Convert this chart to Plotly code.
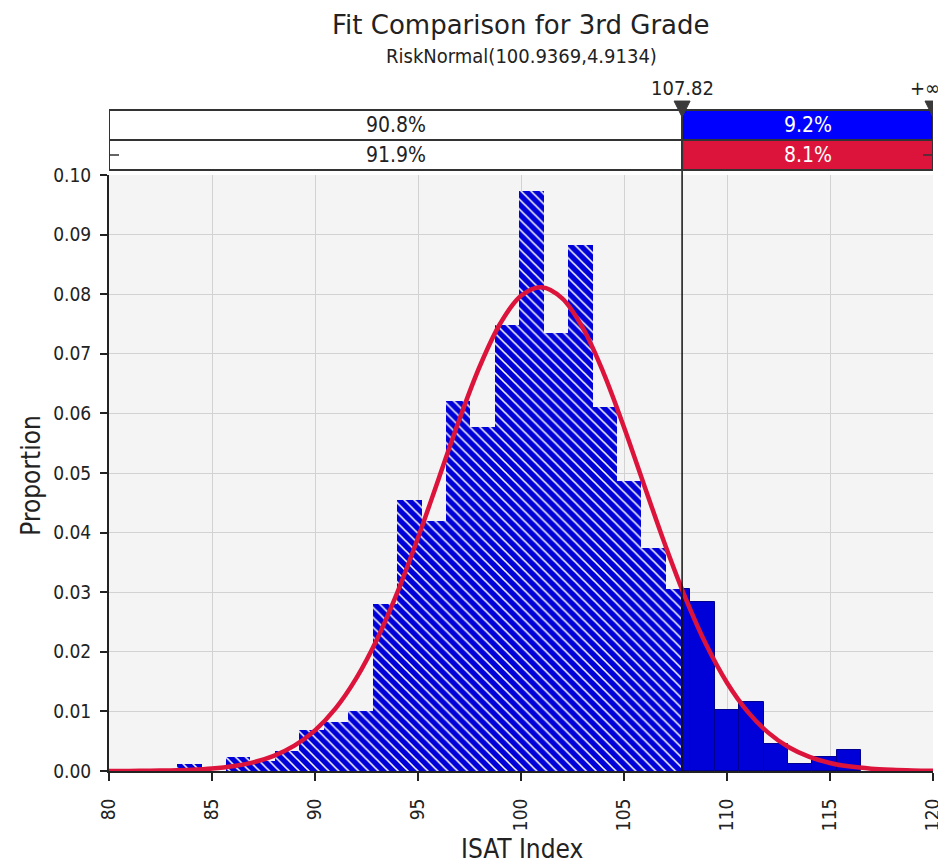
import plotly.graph_objects as go

# ---------------- data ----------------
title_text = "Fit Comparison for 3rd Grade"
subtitle_text = "RiskNormal(100.9369,4.9134)"
x_title = "ISAT Index"
y_title = "Proportion"

# histogram (proportion per bin), bins of equal width starting at bin_lo
bin_lo = 83.31
bin_w = 1.186
proportions = [0.0012, 0.0000, 0.0024, 0.0017, 0.0033, 0.0068, 0.0082, 0.0100,
               0.0280, 0.0454, 0.0420, 0.0621, 0.0578, 0.0748, 0.0974, 0.0735,
               0.0883, 0.0611, 0.0487, 0.0374, 0.0306, 0.0283, 0.0102, 0.0115,
               0.0045, 0.0011, 0.0024, 0.0035]

# fitted curve
curve_x = list(range(80, 121))
curve_y = [0.00001, 0.00002, 0.00005, 0.00010, 0.00021, 0.00042, 0.00080, 0.00145,
           0.00254, 0.00425, 0.00682, 0.01050, 0.01553, 0.02202, 0.02997, 0.03913,
           0.04901, 0.05890, 0.06791, 0.07512, 0.07973, 0.08118, 0.07931, 0.07434,
           0.06685, 0.05768, 0.04774, 0.03792, 0.02889, 0.02112, 0.01481, 0.00997,
           0.00644, 0.00399, 0.00237, 0.00135, 0.00074, 0.00039, 0.00020, 0.00009,
           0.00004]

split_value = 107.82
split_label = "107.82"
right_label = "+\u221e"
band_left_pct = [90.8, 91.9]   # input, fit
band_right_pct = [9.2, 8.1]

x_range = [80, 120]
y_range = [0, 0.10]
x_ticks = [80, 85, 90, 95, 100, 105, 110, 115, 120]
y_ticks = [0.00, 0.01, 0.02, 0.03, 0.04, 0.05, 0.06, 0.07, 0.08, 0.09, 0.10]

# ---------------- style ----------------
FONT = "DejaVu Sans Condensed, DejaVu Sans, sans-serif"
TITLE_FONT = "DejaVu Sans, sans-serif"
TXT = "#222222"
BLUE = "#0000D8"
BAND_BLUE = "#0000FF"
RED = "#DC143C"
OFF = 8                      # page body margin
W, H = 946 - OFF, 865 - OFF
PL, PR, PT, PB = 109, 933, 175, 771.5   # plot area in screen pixels
L, R, T, B = PL - OFF, W - (PR - OFF), PT - OFF, H - (PB - OFF)
PH = PB - PT
PW = PR - PL


def py(px):
    """screen pixel row -> paper y"""
    return (PB - px) / PH


def px_(sx):
    """screen pixel column -> paper x"""
    return (sx - PL) / PW


# split bins into hatched (left of split) and solid (right of split) parts
hx, hw, hy, sx, sw, sy = [], [], [], [], [], []
for i, p in enumerate(proportions):
    a = bin_lo + i * bin_w
    b = a + bin_w
    if a < split_value:
        e = min(b, split_value)
        hx.append((a + e) / 2); hw.append(e - a); hy.append(p)
    if b > split_value:
        s = max(a, split_value)
        sx.append((s + b) / 2); sw.append(b - s); sy.append(p)

fig = go.Figure()
fig.add_trace(go.Bar(
    x=hx, y=hy, width=hw,
    marker=dict(color=BLUE, line=dict(width=0),
                pattern=dict(shape="\\", fgcolor="white", bgcolor=BLUE,
                             fillmode="replace", size=7, solidity=0.22)),
    showlegend=False, hoverinfo="skip"))
fig.add_trace(go.Bar(
    x=sx, y=sy, width=sw,
    marker=dict(color=BLUE, line=dict(width=1, color="#000090")),
    showlegend=False, hoverinfo="skip"))
fig.add_trace(go.Scatter(
    x=curve_x, y=curve_y, mode="lines",
    line=dict(color=RED, width=4.5, shape="spline", smoothing=1),
    showlegend=False, hoverinfo="skip"))

shapes = []
# split line
shapes.append(dict(type="line", xref="x", yref="paper", x0=split_value, x1=split_value,
                   y0=0, y1=py(110), line=dict(color="#111111", width=1.5), layer="above"))
# bands
rows = [(110, 140), (140, 170)]
right_fill = [BAND_BLUE, RED]
annos = []
for k, (top, bot) in enumerate(rows):
    y1, y0 = py(top), py(bot)
    shapes.append(dict(type="rect", xref="x", yref="paper", x0=x_range[0], x1=split_value,
                       y0=y0, y1=y1, fillcolor="white", line=dict(color="#333333", width=2)))
    shapes.append(dict(type="rect", xref="x", yref="paper", x0=split_value, x1=x_range[1],
                       y0=y0, y1=y1, fillcolor=right_fill[k], line=dict(color="#333333", width=2)))
    yc = py((top + bot) / 2)
    annos.append(dict(x=(x_range[0] + split_value) / 2, y=yc, xref="x", yref="paper",
                      text=f"{band_left_pct[k]:.1f}%", showarrow=False,
                      xanchor="center", yanchor="middle",
                      font=dict(family=FONT, size=21, color=TXT)))
    annos.append(dict(x=(split_value + x_range[1]) / 2, y=yc, xref="x", yref="paper",
                      text=f"{band_right_pct[k]:.1f}%", showarrow=False,
                      xanchor="center", yanchor="middle",
                      font=dict(family=FONT, size=21, color="white")))

# triangles on top of the band
for xv in [split_value, x_range[1]]:
    shapes.append(dict(type="path", xref="x", yref="paper", xsizemode="pixel", ysizemode="pixel",
                       xanchor=xv, yanchor=py(101), path="M -8 0 L 8 0 L 0 -16 Z",
                       fillcolor="#3a3a3a", line=dict(color="#3a3a3a", width=1)))
# end markers on second row
ym = py(155)
shapes.append(dict(type="path", xref="x", yref="paper", xsizemode="pixel", ysizemode="pixel",
                   xanchor=x_range[0], yanchor=ym,
                   path="M -5 0 L 0 3 L 0 -3 Z M 0 0 L 10 0",
                   fillcolor="white", line=dict(color="#333333", width=1.5)))
shapes.append(dict(type="path", xref="x", yref="paper", xsizemode="pixel", ysizemode="pixel",
                   xanchor=x_range[1], yanchor=ym,
                   path="M 5 0 L 0 3 L 0 -3 Z M 0 0 L -10 0",
                   fillcolor="white", line=dict(color="#333333", width=1.5)))

annos.append(dict(x=split_value, y=py(88), xref="x", yref="paper", text=split_label,
                  showarrow=False, xanchor="center", yanchor="middle",
                  font=dict(family=FONT, size=20, color=TXT)))
annos.append(dict(x=px_(925), y=py(88), xref="paper", yref="paper", text=right_label,
                  showarrow=False, xanchor="center", yanchor="middle",
                  font=dict(family=FONT, size=20, color=TXT)))
# titles
annos.append(dict(x=0.5, y=py(25), xref="paper", yref="paper", text=title_text,
                  showarrow=False, xanchor="center", yanchor="middle",
                  font=dict(family=TITLE_FONT, size=26, color=TXT)))
annos.append(dict(x=0.5, y=py(56), xref="paper", yref="paper", text=subtitle_text,
                  showarrow=False, xanchor="center", yanchor="middle",
                  font=dict(family=FONT, size=20, color=TXT)))
annos.append(dict(x=px_(522), y=py(850), xref="paper", yref="paper", text=x_title,
                  showarrow=False, xanchor="center", yanchor="middle",
                  font=dict(family=FONT, size=26, color=TXT)))
annos.append(dict(x=px_(31), y=py(476), xref="paper", yref="paper",
                  text=y_title, textangle=-90, showarrow=False,
                  xanchor="center", yanchor="middle",
                  font=dict(family=FONT, size=26, color=TXT)))

fig.update_layout(
    width=W, height=H,
    margin=dict(l=L, r=R, t=T, b=B, pad=0, autoexpand=False),
    paper_bgcolor="white", plot_bgcolor="#F4F4F4",
    bargap=0, barmode="overlay",
    shapes=shapes, annotations=annos,
    font=dict(family=FONT, color=TXT),
)
fig.update_xaxes(range=x_range, tickvals=x_ticks, ticktext=[str(v) for v in x_ticks],
                 tickangle=-90, ticks="outside", ticklen=8, tickcolor=TXT, tickwidth=2,
                 ticklabelstandoff=10,
                 showline=True, linecolor=TXT, linewidth=2,
                 showgrid=True, gridcolor="#D2D2D2", gridwidth=1, zeroline=False,
                 tickfont=dict(family=FONT, size=19, color=TXT))
fig.update_yaxes(range=y_range, tickvals=y_ticks, ticktext=[f"{v:.2f}" for v in y_ticks],
                 ticks="outside", ticklen=7, tickcolor=TXT, tickwidth=2,
                 ticklabelstandoff=5,
                 showline=True, linecolor=TXT, linewidth=2,
                 showgrid=True, gridcolor="#D2D2D2", gridwidth=1, zeroline=False,
                 tickfont=dict(family=FONT, size=19, color=TXT))

fig.write_html("out.html")
